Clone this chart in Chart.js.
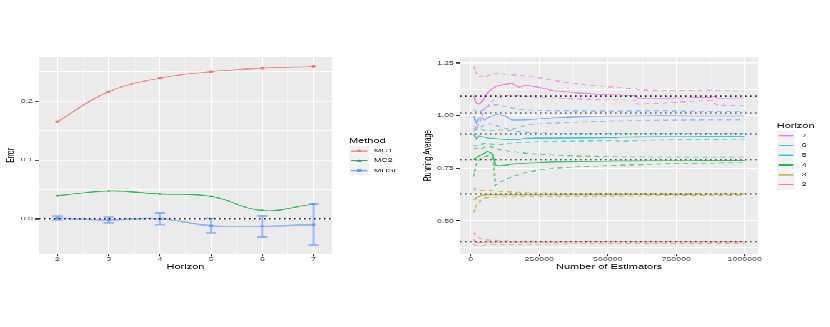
<!DOCTYPE html>
<html><head><meta charset="utf-8">
<script src="https://cdn.jsdelivr.net/npm/chart.js@4/dist/chart.umd.min.js"></script>
<style>
html,body{margin:0;padding:0;background:#fff;overflow:hidden;width:830px;height:327px;}
#wrap{position:absolute;left:0;top:0;width:830px;height:545px;transform:scaleY(0.6);transform-origin:0 0;}
#c1{position:absolute;left:0;top:0;}
#c2{position:absolute;left:415px;top:0;}
</style></head><body>
<div id="wrap"><canvas id="c1" width="415" height="545"></canvas><canvas id="c2" width="415" height="545"></canvas></div>
<script>
// ---------- Left panel data ----------
const horizons = [2, 3, 4, 5, 6, 7];
const mc1 = [0.165, 0.216, 0.239, 0.250, 0.256, 0.259];
const mc2 = [0.039, 0.047, 0.042, 0.038, 0.014, 0.025];
const muse = [0.001, -0.002, 0.000, -0.012, -0.013, -0.010];
const museErr = [0.003, 0.005, 0.010, 0.0125, 0.018, 0.035];
const leftXTicks = [2, 3, 4, 5, 6, 7];
const leftXMinor = [2.5, 3.5, 4.5, 5.5, 6.5];
const leftYTicks = [0.0, 0.1, 0.2];
const leftYLabels = ['0.0', '0.1', '0.2'];
const leftYMinor = [-0.05, 0.05, 0.15, 0.25];
const methods = ['MC1', 'MC2', 'MUSE'];

// ---------- Right panel data ----------
const estimators = [10000,20000,30000,40000,50000,60000,70000,80000,90000,100000,125000,150000,175000,200000,250000,300000,400000,500000,530000,540000,600000,610000,700000,800000,880000,890000,900000,1000000];
const h7Mean  = [1.095,1.060,1.055,1.066,1.085,1.107,1.120,1.131,1.138,1.143,1.150,1.154,1.136,1.145,1.135,1.120,1.108,1.100,1.099,1.099,1.095,1.083,1.083,1.085,1.088,1.092,1.083,1.084];
const h7Upper = [1.235,1.205,1.186,1.190,1.182,1.190,1.195,1.198,1.200,1.200,1.198,1.195,1.193,1.188,1.180,1.168,1.150,1.138,1.135,1.134,1.128,1.124,1.120,1.120,1.122,1.122,1.120,1.118];
const h7Lower = [0.925,0.940,0.965,0.990,1.035,1.040,1.060,1.070,1.080,1.085,1.095,1.100,1.095,1.092,1.087,1.084,1.080,1.076,1.076,1.076,1.075,1.055,1.060,1.068,1.072,1.060,1.050,1.048];
const h6Mean  = [1.000,0.965,0.990,0.990,0.980,0.990,0.996,1.000,1.004,1.006,1.000,0.980,0.980,0.981,0.985,0.990,0.996,0.998,0.998,0.998,0.999,0.999,1.000,0.999,0.999,0.999,0.999,0.999];
const h6Upper = [1.030,1.020,1.015,1.025,1.035,1.042,1.046,1.050,1.052,1.052,1.045,1.037,1.032,1.028,1.025,1.024,1.023,1.022,1.022,1.022,1.023,1.023,1.024,1.021,1.020,1.020,1.020,1.020];
const h6Lower = [0.940,0.935,0.945,0.950,0.955,0.960,0.963,0.960,0.955,0.950,0.940,0.935,0.945,0.955,0.962,0.965,0.970,0.975,0.976,0.976,0.977,0.977,0.979,0.980,0.981,0.981,0.981,0.981];
const h5Mean  = [0.915,0.890,0.905,0.900,0.898,0.895,0.893,0.893,0.892,0.890,0.888,0.886,0.888,0.893,0.894,0.894,0.895,0.896,0.896,0.898,0.899,0.899,0.900,0.900,0.901,0.901,0.901,0.902];
const h5Upper = [0.950,0.945,0.940,0.935,0.930,0.928,0.928,0.930,0.932,0.934,0.932,0.928,0.924,0.922,0.920,0.918,0.917,0.916,0.916,0.916,0.916,0.916,0.916,0.916,0.916,0.916,0.916,0.916];
const h5Lower = [0.860,0.855,0.860,0.865,0.868,0.868,0.866,0.864,0.862,0.862,0.866,0.870,0.873,0.875,0.877,0.878,0.880,0.882,0.883,0.878,0.882,0.883,0.885,0.887,0.888,0.888,0.888,0.890];
const h4Mean  = [0.790,0.800,0.810,0.815,0.822,0.830,0.826,0.815,0.765,0.762,0.765,0.770,0.772,0.775,0.778,0.781,0.783,0.784,0.785,0.785,0.785,0.785,0.786,0.786,0.787,0.787,0.787,0.787];
const h4Upper = [0.840,0.845,0.840,0.845,0.850,0.855,0.855,0.850,0.845,0.840,0.835,0.830,0.826,0.822,0.817,0.813,0.808,0.806,0.806,0.805,0.805,0.805,0.804,0.804,0.804,0.804,0.804,0.804];
const h4Lower = [0.710,0.770,0.790,0.800,0.805,0.810,0.808,0.800,0.670,0.680,0.695,0.710,0.720,0.730,0.742,0.750,0.758,0.763,0.764,0.765,0.767,0.767,0.771,0.774,0.775,0.776,0.776,0.777];
const h3Mean  = [0.598,0.610,0.617,0.622,0.624,0.625,0.625,0.625,0.625,0.625,0.625,0.625,0.625,0.625,0.625,0.625,0.625,0.625,0.625,0.625,0.626,0.626,0.626,0.626,0.627,0.627,0.627,0.627];
const h3Upper = [0.657,0.645,0.642,0.645,0.646,0.645,0.644,0.643,0.642,0.641,0.639,0.637,0.636,0.635,0.634,0.633,0.632,0.631,0.631,0.631,0.631,0.631,0.631,0.631,0.631,0.631,0.631,0.631];
const h3Lower = [0.540,0.575,0.590,0.603,0.608,0.611,0.612,0.613,0.613,0.613,0.614,0.614,0.615,0.615,0.616,0.616,0.617,0.618,0.618,0.618,0.619,0.619,0.620,0.621,0.622,0.622,0.622,0.623];
const h2Mean  = [0.412,0.398,0.397,0.398,0.398,0.399,0.399,0.399,0.399,0.399,0.399,0.399,0.399,0.399,0.399,0.399,0.400,0.400,0.400,0.400,0.400,0.400,0.400,0.400,0.400,0.400,0.400,0.400];
const h2Upper = [0.445,0.428,0.420,0.415,0.412,0.410,0.409,0.408,0.408,0.407,0.406,0.405,0.405,0.405,0.404,0.404,0.404,0.404,0.404,0.404,0.404,0.404,0.404,0.404,0.404,0.404,0.404,0.404];
const h2Lower = [0.390,0.385,0.384,0.384,0.385,0.386,0.386,0.387,0.387,0.388,0.388,0.389,0.389,0.390,0.390,0.391,0.392,0.392,0.392,0.392,0.393,0.393,0.393,0.393,0.394,0.394,0.394,0.394];
const truthLines = [1.093, 1.013, 0.913, 0.791, 0.628, 0.400];
const horizonLevels = ['2', '3', '4', '5', '6', '7'];
const rightXTicks = [0, 250000, 500000, 750000, 1000000];
const rightXLabels = ['0', '250000', '500000', '750000', '1000000'];
const rightXMinor = [125000, 375000, 625000, 875000];
const rightYTicks = [0.50, 0.75, 1.00, 1.25];
const rightYLabels = ['0.50', '0.75', '1.00', '1.25'];
const rightYMinor = [0.375, 0.625, 0.875, 1.125];

// ---------- styling ----------
const FONT = "'Liberation Sans', Arial, Helvetica, sans-serif";
Chart.defaults.font.family = FONT;
const hue = {'2':'#F8766D','3':'#B79F00','4':'#00BA38','5':'#00BFC4','6':'#619CFF','7':'#F564E3'};
const methodColors = ['#F8766D', '#00BA38', '#619CFF'];
const methodShapes = ['circle', 'triangle', 'rect'];
function rgba(hex, a) {
  const n = parseInt(hex.slice(1), 16);
  return `rgba(${(n>>16)&255},${(n>>8)&255},${n&255},${a})`;
}
const near = (arr, v) => arr.findIndex(m => Math.abs(m - v) < 1e-9);

function axis(opts) {
  const all = opts.majors.concat(opts.minors).sort((a,b)=>a-b);
  return {
    type: 'linear', position: opts.position, min: opts.min, max: opts.max,
    afterBuildTicks: s => { s.ticks = all.map(v => ({value: v})); },
    afterFit: s => { if (opts.width) s.width = opts.width; if (opts.height) s.height = opts.height; },
    ticks: {
      autoSkip: false, maxRotation: 0, padding: opts.tickPad, color: '#4D4D4D',
      font: {size: 8.8},
      callback: v => { const i = near(opts.majors, v); return i >= 0 ? opts.labels[i] : ''; }
    },
    grid: {
      color: '#FFFFFF',
      lineWidth: c => (c.tick && near(opts.majors, c.tick.value) >= 0) ? opts.gw : opts.gw * 0.5,
      tickColor: c => (c.tick && near(opts.majors, c.tick.value) >= 0) ? '#333333' : 'rgba(0,0,0,0)',
      tickLength: 4, tickWidth: opts.tw
    },
    border: {display: false},
    title: {display: true, text: opts.title, color: '#000', font: {size: 11}, padding: opts.titlePad}
  };
}

const panelBg = {
  id: 'panelBg',
  beforeDraw(chart) {
    const {ctx, chartArea: a} = chart;
    ctx.save(); ctx.fillStyle = '#EBEBEB';
    ctx.fillRect(a.left, a.top, a.right - a.left, a.bottom - a.top);
    ctx.restore();
  }
};
function dottedLines(chart, values) {
  const {ctx, chartArea: a, scales: {y}} = chart;
  ctx.save();
  ctx.setLineDash([1.6, 3.4]); ctx.lineWidth = 2; ctx.strokeStyle = '#1a1a1a';
  values.forEach(v => {
    const py = y.getPixelForValue(v);
    ctx.beginPath(); ctx.moveTo(a.left, py); ctx.lineTo(a.right, py); ctx.stroke();
  });
  ctx.restore();
}
function drawShape(ctx, shape, x, y, r, color) {
  ctx.fillStyle = color;
  ctx.beginPath();
  if (shape === 'circle') ctx.arc(x, y, r, 0, Math.PI * 2);
  else if (shape === 'triangle') { ctx.moveTo(x, y - r * 1.2); ctx.lineTo(x + r * 1.15, y + r * 0.8); ctx.lineTo(x - r * 1.15, y + r * 0.8); ctx.closePath(); }
  else ctx.rect(x - r, y - r, 2 * r, 2 * r);
  ctx.fill();
}
function legendPlugin(cfg) {
  return {
    id: 'ggLegend',
    afterDraw(chart) {
      const ctx = chart.ctx;
      ctx.save();
      ctx.textBaseline = 'middle'; ctx.textAlign = 'left';
      ctx.fillStyle = '#000'; ctx.font = `11px ${FONT}`;
      ctx.fillText(cfg.title, cfg.titleX, cfg.titleY);
      const top = cfg.centers[0] - cfg.keyH / 2;
      ctx.fillStyle = '#F2F2F2';
      ctx.fillRect(cfg.keyX, top, cfg.keyW, cfg.keyH * cfg.centers.length);
      cfg.items.forEach((it, i) => {
        const cy = cfg.centers[i];
        ctx.strokeStyle = rgba(it.color, 0.9); ctx.lineWidth = 2.3; ctx.setLineDash([]);
        ctx.beginPath(); ctx.moveTo(cfg.keyX + 1.5, cy); ctx.lineTo(cfg.keyX + cfg.keyW - 1.5, cy); ctx.stroke();
        if (it.shape) drawShape(ctx, it.shape, cfg.keyX + cfg.keyW / 2, cy, 2.3, it.color);
        ctx.fillStyle = '#1a1a1a'; ctx.font = `8.8px ${FONT}`;
        ctx.fillText(it.label, cfg.labelX, cy);
      });
      ctx.restore();
    }
  };
}

// ---------- Left chart ----------
const leftDatasets = [mc1, mc2, muse].map((arr, k) => ({
  label: methods[k],
  data: horizons.map((h, i) => ({x: h, y: arr[i]})),
  borderColor: rgba(methodColors[k], k === 2 ? 0.65 : 0.85),
  backgroundColor: methodColors[k],
  borderWidth: k === 2 ? 2.6 : 1.6,
  tension: 0.4,
  pointStyle: methodShapes[k],
  pointRadius: k === 2 ? 2.6 : 2.2,
  pointBorderWidth: 0,
  pointBackgroundColor: methodColors[k]
}));
const errorBars = {
  id: 'errorBars',
  afterDatasetsDraw(chart) {
    const {ctx, scales: {x, y}} = chart;
    ctx.save();
    ctx.strokeStyle = rgba('#619CFF', 0.7);
    horizons.forEach((h, i) => {
      const px = x.getPixelForValue(h);
      const hw = x.getPixelForValue(h + 0.1) - px;
      const yl = y.getPixelForValue(muse[i] - museErr[i]);
      const yh = y.getPixelForValue(muse[i] + museErr[i]);
      ctx.lineWidth = 1.8;
      ctx.beginPath(); ctx.moveTo(px, yl); ctx.lineTo(px, yh); ctx.stroke();
      ctx.lineWidth = 2.6;
      ctx.beginPath(); ctx.moveTo(px - hw, yl); ctx.lineTo(px + hw, yl);
      ctx.moveTo(px - hw, yh); ctx.lineTo(px + hw, yh); ctx.stroke();
    });
    ctx.restore();
    dottedLines(chart, [0]);
  }
};
new Chart(document.getElementById('c1'), {
  type: 'line',
  data: {datasets: leftDatasets},
  options: {
    responsive: false, animation: false, devicePixelRatio: 1,
    layout: {padding: {left: 0, right: 83, top: 95, bottom: 0}},
    plugins: {legend: {display: false}, tooltip: {enabled: false}},
    scales: {
      x: axis({position: 'bottom', min: 1.64, max: 7.36, majors: leftXTicks, minors: leftXMinor,
        labels: leftXTicks.map(String), height: 121.7, tickPad: 0, gw: 1.1, tw: 1.1,
        title: 'Horizon', titlePad: {top: 0, bottom: 93.4}}),
      y: axis({position: 'left', min: -0.06, max: 0.275, majors: leftYTicks, minors: leftYMinor,
        labels: leftYLabels, width: 39, tickPad: 2, gw: 1.8, tw: 1.8,
        title: 'Error', titlePad: {top: 4.4, bottom: 0}})
    }
  },
  plugins: [panelBg, errorBars, legendPlugin({
    title: 'Method', titleX: 349, titleY: 234.5,
    keyX: 349.5, keyW: 19.5, keyH: 16.2, centers: [251.7, 267.9, 284.1], labelX: 374,
    items: methods.map((m, k) => ({label: m, color: methodColors[k], shape: methodShapes[k]}))
  })]
});

// ---------- Right chart ----------
const seriesByH = {
  '2': [h2Mean, h2Upper, h2Lower], '3': [h3Mean, h3Upper, h3Lower], '4': [h4Mean, h4Upper, h4Lower],
  '5': [h5Mean, h5Upper, h5Lower], '6': [h6Mean, h6Upper, h6Lower], '7': [h7Mean, h7Upper, h7Lower]
};
const rightDatasets = [];
horizonLevels.forEach(h => {
  seriesByH[h].forEach((arr, k) => {
    rightDatasets.push({
      label: h + (k === 0 ? '' : (k === 1 ? ' upper' : ' lower')),
      data: estimators.map((x, i) => ({x, y: arr[i]})),
      borderColor: rgba(hue[h], k === 0 ? 0.75 : 0.6),
      borderWidth: 1.7,
      borderDash: k === 0 ? [] : [5, 4],
      pointRadius: 0, tension: 0
    });
  });
});
const truthPlugin = {id: 'truth', afterDatasetsDraw(chart) { dottedLines(chart, truthLines); }};
new Chart(document.getElementById('c2'), {
  type: 'line',
  data: {datasets: rightDatasets},
  options: {
    responsive: false, animation: false, devicePixelRatio: 1,
    layout: {padding: {left: 0, right: 71.7, top: 95.5, bottom: 0}},
    plugins: {legend: {display: false}, tooltip: {enabled: false}},
    scales: {
      x: axis({position: 'bottom', min: -39500, max: 1049500, majors: rightXTicks, minors: rightXMinor,
        labels: rightXLabels, height: 121.7, tickPad: 0, gw: 1.1, tw: 1.1,
        title: 'Number of Estimators', titlePad: {top: 0, bottom: 93.4}}),
      y: axis({position: 'left', min: 0.343, max: 1.278, majors: rightYTicks, minors: rightYMinor,
        labels: rightYLabels, width: 45, tickPad: 2, gw: 1.8, tw: 1.8,
        title: 'Running Average', titlePad: {top: 5.9, bottom: 0}})
    }
  },
  plugins: [panelBg, truthPlugin, legendPlugin({
    title: 'Horizon', titleX: 361.7, titleY: 209.5,
    keyX: 362.3, keyW: 17.5, keyH: 16.3, centers: [226.2, 242.5, 258.8, 275.1, 291.4, 307.7], labelX: 386.7,
    items: horizonLevels.slice().reverse().map(h => ({label: h, color: hue[h]}))
  })]
});
</script>
</body></html>
